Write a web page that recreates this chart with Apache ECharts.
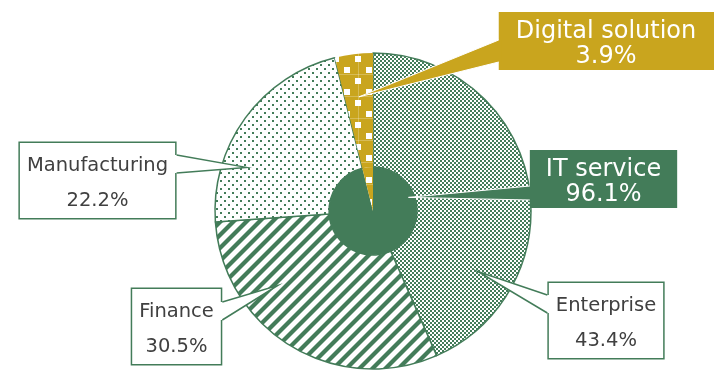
<!DOCTYPE html>
<html><head><meta charset="utf-8">
<script src="https://cdn.jsdelivr.net/npm/echarts@6/dist/echarts.min.js"></script>
<style>html,body{margin:0;padding:0;background:#fff}#c{width:714px;height:371px}</style>
</head><body><div id="c"></div>
<script>
// ---- data ----
const segmentNames = ['Enterprise', 'Finance', 'Manufacturing', 'Digital solution'];
const segmentValues = [43.4, 30.5, 22.2, 3.9];
const groupNames = ['IT service', 'Digital solution'];
const groupValues = [96.1, 3.9];

// ---- style ----
const GREEN = '#437c59';
const GOLD = '#c9a51e';
const TEXT = '#404040';
const CENTER = [373, 211];
const R_OUT = 158, R_IN = 44;
const FONT = '"DejaVu Sans", Verdana, sans-serif';

// ---- fill patterns (tiles drawn on small canvases) ----
function tile(w, h, draw) {
  const cv = document.createElement('canvas');
  cv.width = w; cv.height = h;
  draw(cv.getContext('2d'));
  return {image: cv, repeat: 'repeat'};
}
const patterns = {
  'Enterprise': tile(4, 4, g => {
    g.fillStyle = '#fff'; g.fillRect(0, 0, 4, 4);
    g.fillStyle = GREEN; g.fillRect(0, 0, 2, 2); g.fillRect(2, 2, 2, 2);
  }),
  'Finance': tile(13, 13, g => {
    g.fillStyle = '#fff'; g.fillRect(0, 0, 13, 13);
    g.strokeStyle = GREEN; g.lineWidth = 4.2;
    for (let o = -13; o <= 13; o += 13) {
      g.beginPath(); g.moveTo(o - 2, 15); g.lineTo(o + 15, -2); g.stroke();
    }
  }),
  'Manufacturing': tile(8, 8, g => {
    g.fillStyle = '#fff'; g.fillRect(0, 0, 8, 8);
    g.fillStyle = GREEN; g.fillRect(0, 0, 2, 2); g.fillRect(4, 4, 2, 2);
  }),
  'Digital solution': tile(22, 22, g => {
    g.fillStyle = GOLD; g.fillRect(0, 0, 22, 22);
    g.fillStyle = 'rgba(255,255,255,0.25)';
    g.fillRect(6, 0, 1, 22); g.fillRect(0, 8, 22, 1);
    g.fillStyle = '#fff'; g.fillRect(3, 12, 6, 6); g.fillRect(14, 1, 6, 6);
  })
};

// callout layout: box centre x, box top, side the wedge leaves from, wedge base offsets, tip angle (deg clockwise from top) and radius
const callouts = {
  'Enterprise':       {cx: 606,   top: 283, side: 'left',  base: [12, 30], angle: 120, r: 121, fill: '#fff', stroke: GREEN},
  'Finance':          {cx: 176.5, top: 289, side: 'right', base: [13, 31], angle: 232, r: 121, fill: '#fff', stroke: GREEN},
  'Manufacturing':    {cx: 97.5,  top: 143, side: 'right', base: [12, 30], angle: 289, r: 134, fill: '#fff', stroke: GREEN},
  'IT service':       {cx: 603.5, top: 150, side: 'left',  base: [36, 50], angle: 69,  r: 38,  fill: GREEN, stroke: '#fff'},
  'Digital solution': {cx: 607.5, top: 12,  side: 'left',  base: [28, 50], angle: 353, r: 115, fill: GOLD, stroke: '#fff'}
};

const rects = {};
function makeLayout(names) {
  return function (params) {
    const name = names[params.dataIndex];
    const c = callouts[name];
    if (!c) return {};
    const w = params.labelRect.width, h = params.labelRect.height;
    rects[name] = {x: c.cx - w / 2, y: c.top, w: w, h: h};
    return {x: c.cx, y: c.top, align: 'center', verticalAlign: 'top'};
  };
}

const fmt = p => p.name + '\n' + p.value.toFixed(1) + '%';

const chart = echarts.init(document.getElementById('c'), null, {renderer: 'canvas'});
chart.setOption({
  animation: false,
  backgroundColor: '#fff',
  series: [
    {
      type: 'pie', center: CENTER, radius: [R_IN, R_OUT], startAngle: 90, clockwise: true,
      silent: true, avoidLabelOverlap: false, emphasis: {disabled: true},
      data: segmentNames.map((n, i) => {
        const gold = n === 'Digital solution';
        return {
          name: n, value: segmentValues[i],
          itemStyle: {color: patterns[n], borderColor: gold ? GOLD : GREEN, borderWidth: gold ? 0 : 1.5},
          label: {show: !gold}
        };
      }),
      label: {
        show: true, formatter: fmt, color: TEXT, fontFamily: FONT, fontSize: 19.5, lineHeight: 34.5,
        backgroundColor: '#fff', borderColor: GREEN, borderWidth: 1.5, padding: [6, 7, 0, 7], align: 'center'
      },
      labelLine: {show: false},
      labelLayout: makeLayout(segmentNames)
    },
    {
      type: 'pie', center: CENTER, radius: [0, R_IN], startAngle: 90, clockwise: true,
      silent: true, avoidLabelOverlap: false, emphasis: {disabled: true},
      data: groupNames.map((n, i) => {
        const gold = n === 'Digital solution';
        return {
          name: n, value: groupValues[i],
          itemStyle: {color: gold ? patterns[n] : GREEN, borderWidth: 0},
          label: gold
            ? {backgroundColor: GOLD, padding: [7, 20, 1, 17]}
            : {backgroundColor: GREEN, padding: [7, 16, 1, 16]}
        };
      }),
      label: {
        show: true, formatter: fmt, color: '#fff', fontFamily: FONT, fontSize: 24, lineHeight: 25,
        padding: [7, 14, 1, 14], align: 'center'
      },
      labelLine: {show: false},
      labelLayout: makeLayout(groupNames)
    }
  ]
});

// wedge-shaped callout pointers
const elements = [];
Object.keys(callouts).forEach(name => {
  const c = callouts[name], rc = rects[name];
  if (!rc) return;
  const a = c.angle * Math.PI / 180;
  const tip = [CENTER[0] + c.r * Math.sin(a), CENTER[1] - c.r * Math.cos(a)];
  const ex = c.side === 'left' ? rc.x : rc.x + rc.w;
  const inset = c.side === 'left' ? 2.5 : -2.5;
  const b1 = [ex, rc.y + c.base[0]], b2 = [ex, rc.y + c.base[1]];
  elements.push({
    type: 'polygon', z: 100, silent: true,
    shape: {points: [tip, b1, [ex + inset, b1[1]], [ex + inset, b2[1]], b2]},
    style: {fill: c.fill, stroke: null}
  });
  elements.push({
    type: 'polyline', z: 101, silent: true,
    shape: {points: [b1, tip, b2]},
    style: {stroke: c.stroke, lineWidth: c.stroke === '#fff' ? 1 : 1.5, fill: null}
  });
});
chart.setOption({graphic: {elements: elements}});
</script>
</body></html>
